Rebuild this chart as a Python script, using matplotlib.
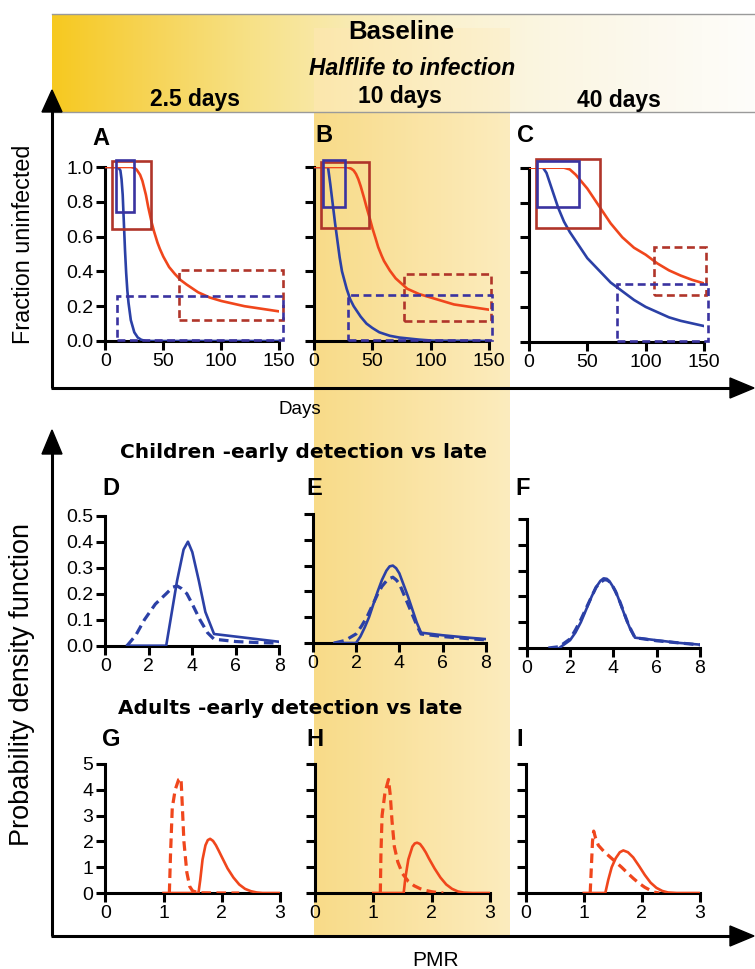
import numpy as np
import matplotlib
matplotlib.use('Agg')
import matplotlib.pyplot as plt
from matplotlib.patches import Rectangle, Polygon

plt.rcParams['font.family'] = ['Liberation Sans', 'DejaVu Sans']

W, H = 755, 969

# ---------------- data ----------------
halflife_labels = ['2.5 days', '10 days', '40 days']
day_ticks = [0, 50, 100, 150]
frac_ticks = [0.0, 0.2, 0.4, 0.6, 0.8, 1.0]
child_ticks_x = [0, 2, 4, 6, 8]
child_ticks_y = [0.0, 0.1, 0.2, 0.3, 0.4, 0.5]
adult_ticks_x = [0, 1, 2, 3]
adult_ticks_y = [0, 1, 2, 3, 4, 5]

# Panel A (2.5 days)
a_blue_x = [0, 11, 13, 14, 15, 16, 17, 18, 19, 20, 22, 25, 28, 31, 35, 150]
a_blue_y = [1, 1, 0.98, 0.93, 0.84, 0.68, 0.52, 0.39, 0.29, 0.22, 0.12, 0.05, 0.02, 0.007, 0, 0]
a_red_x = [0, 22, 25, 27, 30, 32, 35, 37, 40, 42, 45, 47, 50, 55, 60, 65, 70, 80, 90, 100, 120, 150]
a_red_y = [1, 1, 0.995, 0.985, 0.955, 0.92, 0.84, 0.77, 0.68, 0.63, 0.565, 0.53, 0.485, 0.425, 0.385, 0.35, 0.325, 0.28, 0.25, 0.23, 0.20, 0.17]
# Panel B (10 days)
b_blue_x = [0, 12, 14, 16, 18, 20, 22, 24, 28, 31, 34, 40, 45, 50, 56, 65, 73, 90, 102, 150]
b_blue_y = [1, 1, 0.9, 0.79, 0.68, 0.58, 0.48, 0.4, 0.3, 0.24, 0.2, 0.14, 0.1, 0.075, 0.05, 0.03, 0.02, 0.008, 0.002, 0]
b_red_x = [0, 28, 32, 34, 36, 38, 40, 43, 45, 48, 50, 53, 55, 58, 60, 65, 70, 80, 90, 100, 120, 150]
b_red_y = [1, 1, 0.99, 0.98, 0.96, 0.93, 0.89, 0.82, 0.77, 0.7, 0.65, 0.585, 0.54, 0.49, 0.46, 0.405, 0.36, 0.30, 0.27, 0.25, 0.21, 0.18]
# Panel C (40 days)
c_blue_x = [0, 12, 15, 20, 25, 30, 35, 40, 50, 60, 70, 80, 90, 100, 110, 120, 130, 140, 150]
c_blue_y = [1, 1, 0.97, 0.87, 0.77, 0.69, 0.63, 0.58, 0.48, 0.41, 0.34, 0.29, 0.24, 0.20, 0.17, 0.14, 0.12, 0.105, 0.09]
c_red_x = [0, 30, 35, 40, 45, 50, 55, 60, 70, 80, 90, 100, 110, 120, 130, 140, 150]
c_red_y = [1, 1, 0.99, 0.96, 0.92, 0.88, 0.83, 0.78, 0.68, 0.60, 0.54, 0.50, 0.45, 0.41, 0.38, 0.355, 0.335]

# boxes: [x0, x1, y0, y1]
a_box_red_solid = [6, 39.4, 0.645, 1.034]
a_box_blue_solid = [8.9, 25, 0.741, 1.042]
a_box_red_dash = [63.5, 153.4, 0.119, 0.406]
a_box_blue_dash = [10.3, 153.4, 0.008, 0.257]
b_box_red_solid = [6, 47.3, 0.65, 1.03]
b_box_blue_solid = [8, 26.5, 0.77, 1.04]
b_box_red_dash = [77.3, 152, 0.115, 0.387]
b_box_blue_dash = [28.8, 152.5, 0.008, 0.266]
c_box_red_solid = [5.7, 60.7, 0.655, 1.05]
c_box_blue_solid = [6.6, 42.7, 0.776, 1.04]
c_box_red_dash = [107.4, 151.8, 0.268, 0.546]
c_box_blue_dash = [75.6, 153.2, 0.005, 0.33]

# Children PDFs (PMR)
d_solid_x = [1.0, 2.8, 3.0, 3.3, 3.6, 3.8, 4.0, 4.3, 4.6, 5.0, 6, 7, 8]
d_solid_y = [0, 0, 0.1, 0.25, 0.37, 0.40, 0.36, 0.25, 0.13, 0.045, 0.035, 0.025, 0.015]
d_dash_x = [1.0, 1.4, 1.8, 2.3, 2.8, 3.1, 3.3, 3.5, 3.75, 4.0, 4.35, 4.7, 5.0, 6, 7, 8]
d_dash_y = [0, 0.04, 0.1, 0.16, 0.2, 0.225, 0.23, 0.22, 0.2, 0.16, 0.1, 0.05, 0.025, 0.016, 0.012, 0.01]
e_solid_x = [1.0, 2.0, 2.2, 2.4, 2.6, 2.8, 3.0, 3.2, 3.4, 3.55, 3.7, 3.85, 4.0, 4.2, 4.4, 4.6, 4.8, 5.0, 6, 7, 8]
e_solid_y = [0, 0, 0.025, 0.06, 0.1, 0.15, 0.2, 0.245, 0.28, 0.297, 0.30, 0.29, 0.27, 0.225, 0.18, 0.13, 0.08, 0.04, 0.03, 0.022, 0.015]
e_dash_x = [1.0, 1.5, 2.0, 2.25, 2.5, 2.75, 3.0, 3.2, 3.4, 3.55, 3.7, 3.85, 4.0, 4.2, 4.4, 4.6, 4.8, 5.0, 6, 7, 8]
e_dash_y = [0, 0.01, 0.035, 0.065, 0.1, 0.145, 0.19, 0.22, 0.24, 0.25, 0.255, 0.245, 0.23, 0.19, 0.15, 0.11, 0.07, 0.035, 0.025, 0.018, 0.012]
f_solid_x = [1.5, 2.0, 2.25, 2.5, 2.75, 3.0, 3.2, 3.4, 3.55, 3.7, 3.85, 4.0, 4.2, 4.4, 4.6, 4.8, 5.0, 6, 7, 8]
f_solid_y = [0, 0.03, 0.06, 0.1, 0.15, 0.2, 0.235, 0.26, 0.27, 0.268, 0.255, 0.235, 0.2, 0.155, 0.11, 0.07, 0.04, 0.03, 0.02, 0.013]
f_dash_x = [1.0, 1.5, 2.0, 2.25, 2.5, 2.75, 3.0, 3.2, 3.4, 3.6, 3.75, 3.9, 4.1, 4.3, 4.5, 4.7, 5.0, 6, 7, 8]
f_dash_y = [0, 0.005, 0.035, 0.07, 0.11, 0.155, 0.2, 0.235, 0.255, 0.265, 0.262, 0.25, 0.22, 0.18, 0.135, 0.09, 0.04, 0.028, 0.02, 0.012]

# Adults PDFs (PMR)
g_solid_x = [1.0, 1.6, 1.63, 1.67, 1.72, 1.76, 1.8, 1.85, 1.9, 1.95, 2.0, 2.1, 2.2, 2.3, 2.4, 2.5, 2.6, 2.7, 3.0]
g_solid_y = [0, 0, 0.5, 1.3, 1.85, 2.05, 2.1, 2.02, 1.85, 1.63, 1.4, 0.95, 0.6, 0.33, 0.16, 0.07, 0.02, 0, 0]
g_dash_x = [1.1, 1.12, 1.15, 1.2, 1.26, 1.3, 1.32, 1.35, 1.4, 1.45, 1.5, 1.6, 2.0, 2.3]
g_dash_y = [0, 1.5, 3.3, 4.0, 4.4, 4.45, 3.5, 2.0, 0.8, 0.25, 0.08, 0.01, 0, 0]
h_solid_x = [1.0, 1.52, 1.55, 1.6, 1.67, 1.71, 1.75, 1.8, 1.85, 1.9, 1.95, 2.05, 2.15, 2.25, 2.35, 2.45, 2.55, 2.7, 3.0]
h_solid_y = [0, 0, 0.6, 1.3, 1.8, 1.92, 1.95, 1.9, 1.75, 1.57, 1.35, 0.95, 0.6, 0.33, 0.16, 0.06, 0.015, 0, 0]
h_dash_x = [1.12, 1.13, 1.15, 1.2, 1.26, 1.29, 1.32, 1.36, 1.42, 1.5, 1.6, 1.7, 1.8, 1.9, 2.0, 2.1, 2.2]
h_dash_y = [0, 1.5, 3.0, 3.9, 4.4, 3.8, 2.8, 1.8, 1.2, 0.75, 0.45, 0.28, 0.17, 0.1, 0.05, 0.02, 0]
i_solid_x = [1.0, 1.37, 1.42, 1.48, 1.55, 1.62, 1.68, 1.76, 1.85, 1.95, 2.05, 2.15, 2.25, 2.35, 2.45, 2.6, 3.0]
i_solid_y = [0, 0, 0.5, 1.0, 1.35, 1.58, 1.65, 1.58, 1.38, 1.05, 0.7, 0.4, 0.2, 0.08, 0.02, 0, 0]
i_dash_x = [1.11, 1.13, 1.15, 1.17, 1.2, 1.25, 1.35, 1.45, 1.55, 1.65, 1.75, 1.85, 1.95, 2.05, 2.15, 2.22, 2.3]
i_dash_y = [0, 1.0, 2.0, 2.4, 2.15, 1.85, 1.6, 1.4, 1.2, 1.0, 0.78, 0.57, 0.38, 0.22, 0.1, 0.03, 0]

# ---------------- style ----------------
BLUE = '#2B40A6'
RED = '#F0461C'
BOX_BLUE = '#3A33A0'
BOX_RED = '#B0352A'
LW_AX = 2.2
LW_CURVE = 1.9
DASH = (0, (3.0, 1.7))

fig = plt.figure(figsize=(W / 100, H / 100), dpi=100)
bg = fig.add_axes([0, 0, 1, 1], zorder=0)
bg.set_xlim(0, W)
bg.set_ylim(H, 0)
bg.axis('off')


def hgrad(x0, x1, y0, y1, stops_x, stops_c, zorder):
    xs = np.linspace(x0, x1, 400)
    cols = np.stack([np.interp(xs, stops_x, [c[k] for c in stops_c]) for k in range(3)], axis=-1) / 255.0
    img = cols[np.newaxis, :, :]
    bg.imshow(img, extent=(x0, x1, y1, y0), aspect='auto', zorder=zorder, interpolation='bilinear')


# banner gradient
hgrad(52, 755, 14, 112,
      [52, 150, 250, 350, 450, 550, 650, 755],
      [(247, 201, 32), (246, 212, 86), (247, 225, 135), (249, 235, 178), (250, 242, 208),
       (251, 246, 226), (252, 249, 238), (254, 253, 250)], 1)
bg.plot([52, 755], [14, 14], color='#9a9a9a', lw=1.0, zorder=2)
bg.plot([52, 755], [112, 112], color='#9a9a9a', lw=1.0, zorder=2)
# highlighted column inside banner
hgrad(314, 510, 28, 112, [314, 510], [(251, 231, 172), (252, 241, 208)], 1.5)
# highlighted column below banner
hgrad(314, 510, 112, 936, [314, 510], [(248, 219, 136), (252, 236, 190)], 1.5)

bg.text(401, 32, 'Baseline', ha='center', va='center', fontsize=18.5, fontweight='bold', zorder=5)
bg.text(412, 68, 'Halflife to infection', ha='center', va='center', fontsize=16.5,
        fontweight='bold', style='italic', zorder=5)
for xc, yc, lab in zip([195, 400, 619], [99, 96, 100], halflife_labels):
    bg.text(xc, yc, lab, ha='center', va='center', fontsize=16.5, fontweight='bold', zorder=5)

# big arrows
AC = 'black'
bg.plot([52, 52], [388, 108], color=AC, lw=LW_AX, solid_capstyle='butt', zorder=6)
bg.add_patch(Polygon([[42, 112], [62, 112], [52, 90]], closed=True, color=AC, zorder=6))
bg.plot([51, 733], [388, 388], color=AC, lw=LW_AX, solid_capstyle='butt', zorder=6)
bg.add_patch(Polygon([[730, 378], [730, 398], [754, 388]], closed=True, color=AC, zorder=6))

bg.plot([52, 52], [936, 450], color=AC, lw=LW_AX, solid_capstyle='butt', zorder=6)
bg.add_patch(Polygon([[42, 454], [62, 454], [52, 430]], closed=True, color=AC, zorder=6))
bg.plot([51, 733], [936, 936], color=AC, lw=LW_AX, solid_capstyle='butt', zorder=6)
bg.add_patch(Polygon([[730, 926], [730, 946], [754, 936]], closed=True, color=AC, zorder=6))

bg.text(24, 244, 'Fraction uninfected', rotation=90, ha='center', va='center', fontsize=16.8, zorder=5)
bg.text(22, 685, 'Probability density function', rotation=90, ha='center', va='center',
        fontsize=19.5, zorder=5)
bg.text(300, 410, 'Days', ha='center', va='center', fontsize=13.5, zorder=5)
bg.text(436, 960, 'PMR', ha='center', va='center', fontsize=15, zorder=5)
bg.text(303, 452, 'Children -early detection vs late', ha='center', va='center',
        fontsize=14.5, fontweight='bold', family='DejaVu Sans', zorder=5)
bg.text(290, 708, 'Adults -early detection vs late', ha='center', va='center',
        fontsize=14.5, fontweight='bold', family='DejaVu Sans', zorder=5)

for lab, xx, yy in [('A', 92, 138), ('B', 315, 135), ('C', 517, 135),
                    ('D', 102, 488), ('E', 306, 488), ('F', 515, 488),
                    ('G', 102, 739), ('H', 306, 739), ('I', 516, 739)]:
    bg.text(xx, yy, lab, ha='left', va='center', fontsize=17, fontweight='bold', zorder=5)


def make_ax(x0, x1, ytop, ybot, xlim, ylim, xt, yt, ylabels, yfmt):
    ax = fig.add_axes([x0 / W, 1 - ybot / H, (x1 - x0) / W, (ybot - ytop) / H], zorder=3)
    ax.patch.set_alpha(0)
    for s in ['top', 'right']:
        ax.spines[s].set_visible(False)
    for s in ['left', 'bottom']:
        ax.spines[s].set_linewidth(LW_AX)
    ax.set_xlim(*xlim)
    ax.set_ylim(*ylim)
    ax.set_xticks(xt)
    ax.set_yticks(yt)
    ax.tick_params(direction='out', length=6.5, width=LW_AX, labelsize=14, pad=2)
    if ylabels:
        ax.set_yticklabels([yfmt.format(v) for v in yt])
    else:
        ax.set_yticklabels([])
    return ax


def box(ax, b, color, dashed):
    r = Rectangle((b[0], b[2]), b[1] - b[0], b[3] - b[2], fill=False, edgecolor=color,
                  lw=LW_CURVE, linestyle=DASH if dashed else '-', clip_on=False, zorder=4)
    ax.add_patch(r)


frac_panels = [
    (105.3, 279.3, 167, 341, True, a_blue_x, a_blue_y, a_red_x, a_red_y,
     [a_box_red_solid, a_box_blue_solid, a_box_red_dash, a_box_blue_dash]),
    (314, 489, 167, 341, False, b_blue_x, b_blue_y, b_red_x, b_red_y,
     [b_box_red_solid, b_box_blue_solid, b_box_red_dash, b_box_blue_dash]),
    (529, 704, 167.7, 341.7, False, c_blue_x, c_blue_y, c_red_x, c_red_y,
     [c_box_red_solid, c_box_blue_solid, c_box_red_dash, c_box_blue_dash]),
]
for x0, x1, yt, yb, lab, bx, by, rx, ry, boxes in frac_panels:
    ax = make_ax(x0, x1, yt, yb, (0, 150), (0, 1), day_ticks, frac_ticks, lab, '{:.1f}')
    ax.plot(bx, by, color=BLUE, lw=LW_CURVE, zorder=3)
    ax.plot(rx, ry, color=RED, lw=LW_CURVE, zorder=3)
    box(ax, boxes[0], BOX_RED, False)
    box(ax, boxes[1], BOX_BLUE, False)
    box(ax, boxes[2], BOX_RED, True)
    box(ax, boxes[3], BOX_BLUE, True)

child_panels = [
    (105.3, 279.3, 515.7, 645.7, True, d_solid_x, d_solid_y, d_dash_x, d_dash_y),
    (312.7, 486, 514, 643, False, e_solid_x, e_solid_y, e_dash_x, e_dash_y),
    (526.7, 700, 519, 648, False, f_solid_x, f_solid_y, f_dash_x, f_dash_y),
]
for x0, x1, yt, yb, lab, sx, sy, dx, dy in child_panels:
    ax = make_ax(x0, x1, yt, yb, (0, 8), (0, 0.5), child_ticks_x, child_ticks_y, lab, '{:.1f}')
    ax.plot(sx, sy, color=BLUE, lw=LW_CURVE, zorder=3)
    ax.plot(dx, dy, color=BLUE, lw=LW_CURVE + 0.4, linestyle=DASH, zorder=3)

adult_panels = [
    (105.3, 280, 764, 893, True, g_solid_x, g_solid_y, g_dash_x, g_dash_y),
    (315, 490, 764, 893, False, h_solid_x, h_solid_y, h_dash_x, h_dash_y),
    (525.7, 700, 764, 893, False, i_solid_x, i_solid_y, i_dash_x, i_dash_y),
]
for x0, x1, yt, yb, lab, sx, sy, dx, dy in adult_panels:
    ax = make_ax(x0, x1, yt, yb, (0, 3), (0, 5), adult_ticks_x, adult_ticks_y, lab, '{:d}')
    ax.plot(sx, sy, color=RED, lw=LW_CURVE, zorder=3)
    ax.plot(dx, dy, color=RED, lw=LW_CURVE + 0.4, linestyle=DASH, zorder=3)

fig.savefig('out.png', dpi=100)
